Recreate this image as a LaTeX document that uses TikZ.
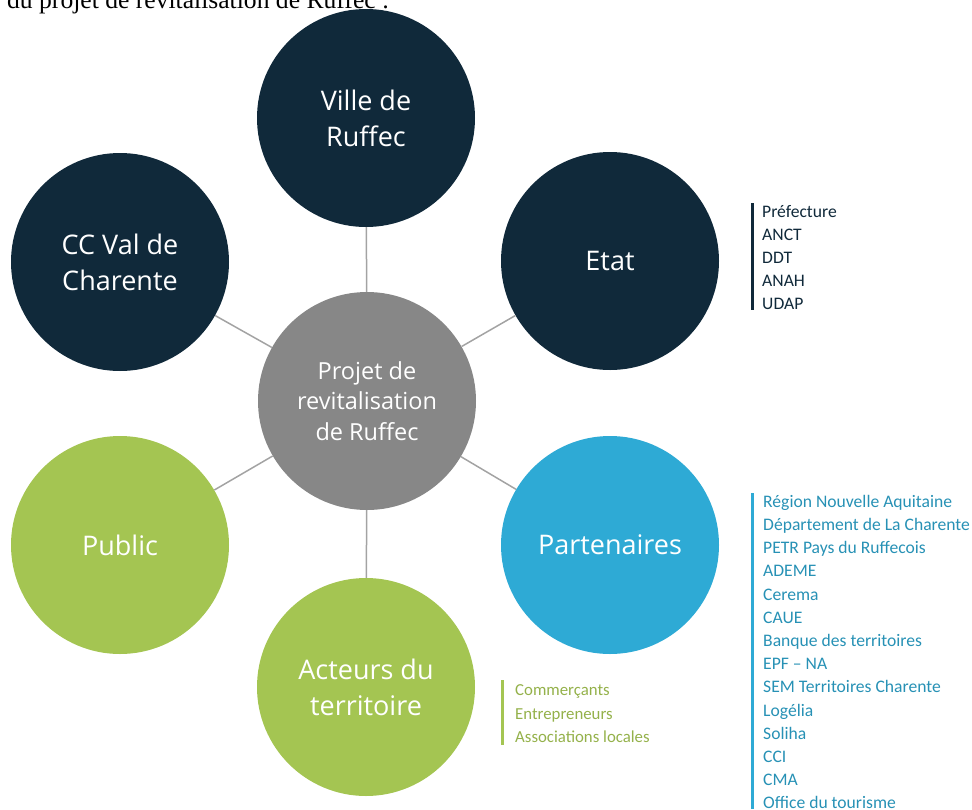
\documentclass[tikz,border=0pt]{standalone}
\usepackage{fontspec}
\setmainfont{Open Sans}
\newfontfamily\listfont{Carlito}
\newfontfamily\introfont{Liberation Serif}

\definecolor{navy}{HTML}{10293A}
\definecolor{stone}{HTML}{878787}
\definecolor{leaf}{HTML}{A4C552}
\definecolor{sky}{HTML}{2EAAD5}
\definecolor{linkgray}{HTML}{A3A3A3}

\begin{document}
\begin{tikzpicture}[x=1pt, y=-1pt,
    bubble/.style={circle, minimum size=218pt, inner sep=0pt, align=center, text=white,
                   font=\fontsize{27}{36}\selectfont},
    link/.style={draw=linkgray, line width=1.5pt},
    item/.style={anchor=base west, inner sep=0pt, font=\listfont\fontsize{17.6}{23}\selectfont}]
    \clip (0,0) rectangle (972,809);
    \node[anchor=base west, inner sep=0pt, font=\introfont\fontsize{25.6}{30}\selectfont] (intro) at (7,8) {du projet de revitalisation de Ruffec :};

    % centre and the six partners around it
    \node[bubble, fill=stone, font=\fontsize{23.5}{30.5}\selectfont] (projet) at (367,401) {Projet de\\revitalisation\\de Ruffec};
    \node[bubble, fill=navy] (ville) at (366,118) {Ville de\\Ruffec};
    \node[bubble, fill=navy] (ccval) at (120,262) {CC Val de\\Charente};
    \node[bubble, fill=navy] (etat) at (610,261) {Etat};
    \node[bubble, fill=leaf] (public) at (120,545) {Public};
    \node[bubble, fill=sky] (partenaires) at (610,545) {Partenaires};
    \node[bubble, fill=leaf] (acteurs) at (366,687) {Acteurs du\\territoire};
    \foreach \other in {ville,ccval,etat,public,partenaires,acteurs}
        \draw[link] (projet) -- (\other);

    % side lists
    \draw[navy, line width=3pt] (752,203) -- (752,310);
    \foreach \name [count=\i] in {Préfecture,ANCT,DDT,ANAH,UDAP}
        \node[item, text=navy] (etat\i) at (762,194+23*\i) {\name};

    \draw[sky, line width=3pt] (752,493) -- (752,809);
    \foreach \name [count=\i] in {Région Nouvelle Aquitaine,Département de La Charente,PETR Pays du Ruffecois,ADEME,Cerema,CAUE,Banque des territoires,EPF – NA,SEM Territoires Charente,Logélia,Soliha,CCI,CMA,Office du tourisme}
        \node[item, text=sky!85!black] (part\i) at (763,484+23.2*\i) {\name};

    \draw[leaf, line width=3pt] (502,680) -- (502,745);
    \foreach \name [count=\i] in {Commerçants,Entrepreneurs,Associations locales}
        \node[item, text=leaf!90!black, font=\listfont\fontsize{16.8}{22}\selectfont] (acteur\i) at (515,672+23.5*\i) {\name};
\end{tikzpicture}
\end{document}
